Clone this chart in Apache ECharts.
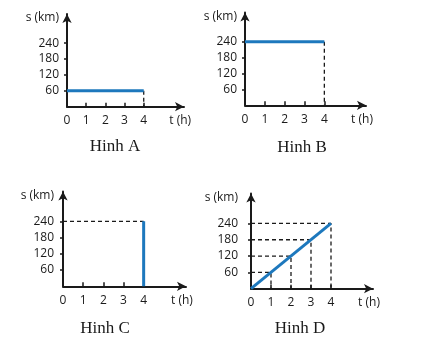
<!DOCTYPE html>
<html><head><meta charset="utf-8">
<script src="https://cdn.jsdelivr.net/npm/echarts@6/dist/echarts.min.js"></script>
<style>html,body{margin:0;padding:0;background:#fff}#c{width:425px;height:345px}</style>
</head><body><div id="c"></div>
<script>
// ---- data ----
const timeTicks = [0, 1, 2, 3, 4];
const distTicks = [60, 120, 180, 240];
const panelTitles = ['Hinh A', 'Hinh B', 'Hinh C', 'Hinh D'];
const xName = 't (h)';
const yName = 's (km)';
const lineA = [[0, 60], [4, 60]];
const lineB = [[0, 240], [4, 240]];
const lineC = [[4, 0], [4, 240]];
const lineD = [[0, 0], [4, 240]];
const guideA = [[4, 60]];          // dashed drop to t-axis only
const guideB = [[4, 240]];
const guideC = [[4, 240]];         // dashed across to s-axis only
const guideD = [[1, 60], [2, 120], [3, 180], [4, 240]];

// ---- layout ----
const grids = [
  {left: 67, top: 14, width: 117, height: 92.7},
  {left: 245, top: 12.5, width: 121, height: 92.8},
  {left: 63, top: 191.5, width: 123, height: 94.8},
  {left: 251, top: 193.5, width: 122, height: 95.2}
];
const yLabelMargin = [8, 8, 9, 13];
const titlePos = [[110, 133], [297, 134], [100, 315], [295, 315]];
const X_MAX = 6.1, Y_MAX = 350, X_NAME_AT = 5.9, Y_NAME_AT = 335;
const BLUE = '#1d78bd', INK = '#1a1a1a';

const xAxes = [], yAxes = [], series = [], titles = [];
grids.forEach((g, i) => {
  xAxes.push({
    gridIndex: i, type: 'value', min: 0, max: X_MAX,
    splitLine: {show: false},
    axisLine: {show: true, lineStyle: {color: INK, width: 2}, symbol: ['none', 'arrow'], symbolSize: [7, 9], symbolOffset: [0, 0]},
    axisTick: {show: true, inside: true, length: 4, lineStyle: {color: INK, width: 1.5}, customValues: timeTicks.slice(1)},
    axisLabel: {color: INK, fontFamily: 'Open Sans', fontSize: 12, margin: 8,
      customValues: timeTicks.concat([X_NAME_AT]),
      formatter: v => (v === X_NAME_AT ? xName : String(v))}
  });
  yAxes.push({
    gridIndex: i, type: 'value', min: 0, max: Y_MAX,
    splitLine: {show: false},
    axisLine: {show: true, lineStyle: {color: INK, width: 2}, symbol: ['none', 'arrow'], symbolSize: [7, 9], symbolOffset: [0, 0]},
    axisTick: {show: true, inside: false, length: 3, lineStyle: {color: INK, width: 1.5}, customValues: distTicks},
    axisLabel: {color: INK, fontFamily: 'Open Sans', fontSize: 12, margin: yLabelMargin[i],
      customValues: distTicks.concat([Y_NAME_AT]),
      formatter: v => (v === Y_NAME_AT ? yName : String(v))}
  });
  titles.push({
    text: panelTitles[i], left: titlePos[i][0], top: titlePos[i][1], textAlign: 'center',
    textStyle: {fontFamily: 'Liberation Serif', fontSize: 17, fontWeight: 'normal', color: INK}
  });
});

function dashSeries(idx, pts, mode) {
  pts.forEach(p => {
    let d;
    if (mode === 'down') d = [[p[0], p[1]], [p[0], 0]];
    else if (mode === 'left') d = [[0, p[1]], [p[0], p[1]]];
    else d = [[0, p[1]], [p[0], p[1]], [p[0], 0]];
    series.push({type: 'line', xAxisIndex: idx, yAxisIndex: idx, data: d, symbol: 'none', silent: true,
      lineStyle: {color: INK, width: 1.3, type: [4, 3]}, z: 1});
  });
}
function mainSeries(idx, d) {
  series.push({type: 'line', xAxisIndex: idx, yAxisIndex: idx, data: d, symbol: 'none', silent: true,
    lineStyle: {color: BLUE, width: 3, cap: 'butt'}, z: 3});
}
dashSeries(0, guideA, 'down'); mainSeries(0, lineA);
dashSeries(1, guideB, 'down'); mainSeries(1, lineB);
dashSeries(2, guideC, 'left'); mainSeries(2, lineC);
dashSeries(3, guideD, 'both'); mainSeries(3, lineD);

const chart = echarts.init(document.getElementById('c'), null, {renderer: 'canvas'});
chart.setOption({
  animation: false,
  backgroundColor: '#fff',
  title: titles,
  grid: grids,
  xAxis: xAxes,
  yAxis: yAxes,
  series: series
});
</script></body></html>
